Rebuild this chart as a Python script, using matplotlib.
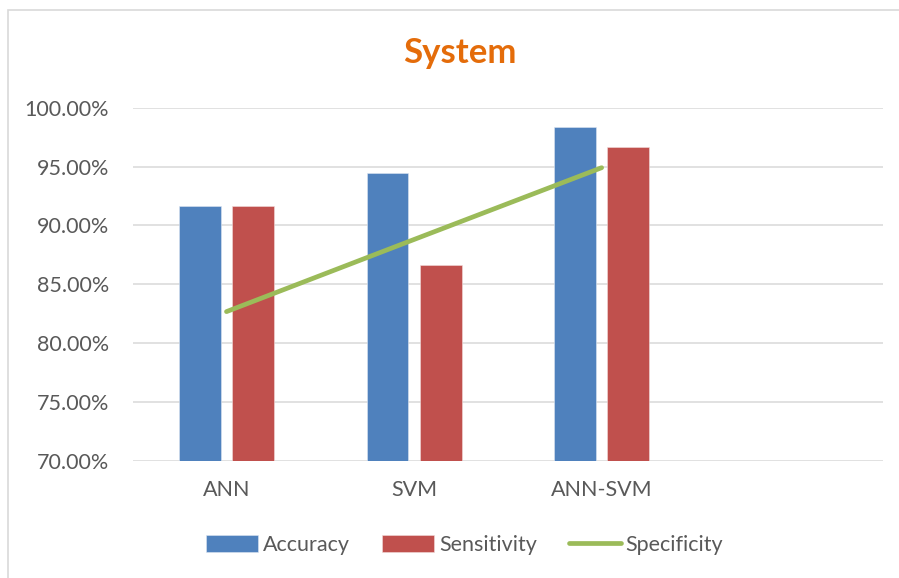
import matplotlib

matplotlib.use("Agg")
import matplotlib.pyplot as plt
import numpy as np
from matplotlib.patches import Rectangle
from matplotlib.ticker import PercentFormatter, MultipleLocator

plt.rcParams.update({"font.family": ["Lato", "DejaVu Sans"]})

# data; fourth category slot is empty in the original
categories = ["ANN", "SVM", "ANN-SVM", ""]
accuracy = [0.9167, 0.9444, 0.9833]
sensitivity = [0.9167, 0.8667, 0.9667]
specificity = [0.8267, 0.8880, 0.9490]

blue, red, green = "#4F81BD", "#C0504D", "#9BBB59"
grey = "#595959"

fig = plt.figure(figsize=(8.99, 5.78), dpi=100)
ax = fig.add_axes([0.1476, 0.2029, 0.9822 - 0.1476, 0.8137 - 0.2029])

x = np.arange(len(accuracy))
w, off = 0.223, 0.142
b1 = ax.bar(x - off, accuracy, w, color=blue, edgecolor="#dce6f2", linewidth=0.4,
            label="Accuracy", zorder=2)
b2 = ax.bar(x + off, sensitivity, w, color=red, edgecolor="#f2dcdb", linewidth=0.4,
            label="Sensitivity", zorder=2)
(l1,) = ax.plot(x, specificity, color=green, lw=3.4, solid_capstyle="round",
                label="Specificity", zorder=3)

ax.set_ylim(0.70, 1.00)
ax.set_xlim(-0.5, len(categories) - 0.5)
ax.yaxis.set_major_locator(MultipleLocator(0.05))
ax.yaxis.set_major_formatter(PercentFormatter(xmax=1, decimals=2))
ax.set_xticks(np.arange(len(categories)))
ax.set_xticklabels(categories)
ax.grid(axis="y", color="#D9D9D9", lw=1.1, zorder=0)
ax.set_axisbelow(True)
for s in ax.spines.values():
    s.set_visible(False)
ax.tick_params(axis="both", length=0, labelsize=15.5, colors=grey)
ax.tick_params(axis="y", pad=17)
ax.tick_params(axis="x", pad=14)

fig.text(0.512, 1 - 53 / 578, "System", ha="center", va="center",
         fontsize=25, fontweight="bold", color="#E46C0A")

leg = fig.legend([b1, b2, l1], ["Accuracy", "Sensitivity", "Specificity"],
                 loc="center", bbox_to_anchor=(0.517, 1 - 545 / 578), ncol=3,
                 frameon=False, fontsize=15.5, handlelength=2.4, handleheight=0.8,
                 handletextpad=0.23, columnspacing=1.5)
for t in leg.get_texts():
    t.set_color(grey)

# outer chart-area frame
fig.patches.append(Rectangle((8 / 899, -0.05), 1.0, 1 - 10 / 578 + 0.05,
                             transform=fig.transFigure, fill=False,
                             edgecolor="#D9D9D9", lw=1.2))

fig.savefig("out.png", dpi=100)
